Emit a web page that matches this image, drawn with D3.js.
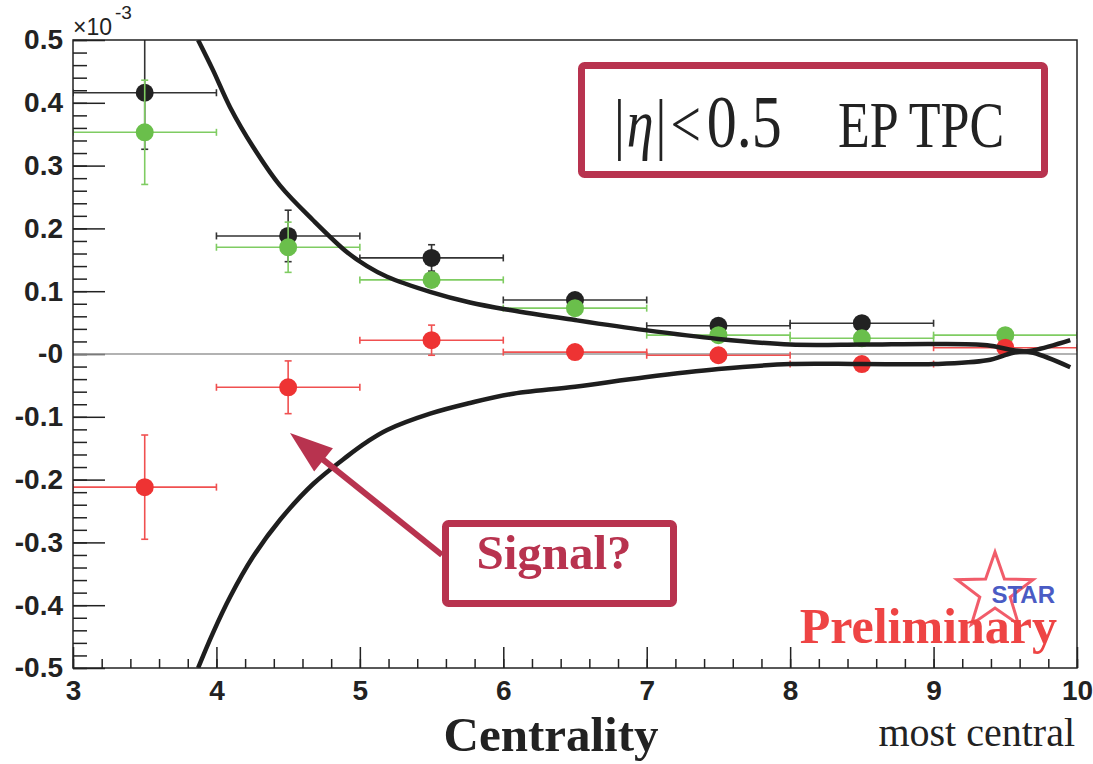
<!DOCTYPE html>
<html>
<head>
<meta charset="utf-8">
<script src="https://cdn.jsdelivr.net/npm/d3@7/dist/d3.min.js"></script>
<style>
  body { margin: 0; background: #fff; }
  svg { display: block; }
</style>
</head>
<body>
<div id="chart"></div>
<script>
// Bin centres (centrality classes), horizontal error is half a bin.
var centrality = [3.5, 4.5, 5.5, 6.5, 7.5, 8.5, 9.5];
var binHalfWidth = 0.5;

// Values in units of 1e-3.
var blackValues = [0.416, 0.188, 0.153, 0.086, 0.045, 0.049];
var blackErrors = [0.090, 0.041, 0.021, 0.008, 0.008, 0.008];
var greenValues = [0.353, 0.170, 0.118, 0.073, 0.030, 0.025, 0.030];
var greenErrors = [0.083, 0.040, 0.010, 0.008, 0.008, 0.008, 0.008];
var redValues = [-0.212, -0.053, 0.022, 0.003, -0.002, -0.016, 0.010];
var redErrors = [0.083, 0.042, 0.024, 0.008, 0.008, 0.008, 0.008];

// Background band curves [centrality, value].
var upperCurve = [
    [3.872, 0.500], [3.976, 0.452], [4.095, 0.393], [4.255, 0.330], [4.444, 0.268],
    [4.674, 0.213], [4.911, 0.162], [5.050, 0.140], [5.190, 0.123], [5.490, 0.099],
    [5.768, 0.082], [6.047, 0.070], [6.500, 0.054], [6.989, 0.038], [7.500, 0.024],
    [8.000, 0.015], [8.500, 0.015], [8.997, 0.016], [9.374, 0.014], [9.555, 0.006],
    [9.695, 0.002], [9.953, -0.021]
];
var lowerCurve = [
    [3.872, -0.500], [3.976, -0.444], [4.095, -0.387], [4.255, -0.323], [4.444, -0.264],
    [4.674, -0.207], [4.911, -0.163], [5.050, -0.140], [5.190, -0.121], [5.490, -0.095],
    [5.768, -0.078], [6.047, -0.064], [6.500, -0.052], [6.989, -0.037], [7.500, -0.024],
    [8.000, -0.016], [8.500, -0.016], [9.000, -0.016], [9.374, -0.010], [9.555, 0.002],
    [9.700, 0.006], [9.953, 0.022]
];

var xTicks = [3, 4, 5, 6, 7, 8, 9, 10];
var xTickLabels = ["3", "4", "5", "6", "7", "8", "9", "10"];
var yTicks = [-0.5, -0.4, -0.3, -0.2, -0.1, 0, 0.1, 0.2, 0.3, 0.4, 0.5];
var yTickLabels = ["-0.5", "-0.4", "-0.3", "-0.2", "-0.1", "-0", "0.1", "0.2", "0.3", "0.4", "0.5"];

var width = 1093, height = 764;
var margin = { left: 73, right: 16, top: 40, bottom: 96 };
var xMinpx = margin.left, xMaxpx = width - margin.right;
var yMaxpx = margin.top, yMinpx = height - margin.bottom;

var accent = "#b8334f";

var svg = d3.select("#chart").append("svg")
    .attr("width", width)
    .attr("height", height)
    .style("font-family", "'Liberation Sans', Arial, sans-serif");

var xScale = d3.scaleLinear().domain([3, 10]).range([xMinpx, xMaxpx]);
var yScale = d3.scaleLinear().domain([-0.5, 0.5]).range([yMinpx, yMaxpx]);

svg.append("defs").append("clipPath").attr("id", "plot-clip")
    .append("rect")
    .attr("x", xMinpx).attr("y", yMaxpx)
    .attr("width", xMaxpx - xMinpx).attr("height", yMinpx - yMaxpx);

// minor ticks first, then major ticks with labels (ticks point inwards)
var yMinor = d3.axisLeft(yScale).tickValues(d3.range(-50, 51, 2).map(function (d) { return d / 100; }))
    .tickSizeInner(-14).tickSizeOuter(0).tickFormat("");
var yMajor = d3.axisLeft(yScale).tickValues(yTicks)
    .tickSizeInner(-32).tickSizeOuter(0).tickPadding(10)
    .tickFormat(function (d, i) { return yTickLabels[i]; });
var xMinor = d3.axisBottom(xScale).tickValues(d3.range(30, 101, 2).map(function (d) { return d / 10; }))
    .tickSizeInner(-9).tickSizeOuter(0).tickFormat("");
var xMajor = d3.axisBottom(xScale).tickValues(xTicks)
    .tickSizeInner(-21).tickSizeOuter(0).tickPadding(12)
    .tickFormat(function (d, i) { return xTickLabels[i]; });

[yMinor, yMajor].forEach(function (axis) {
    svg.append("g").attr("class", "axis y-axis")
        .attr("transform", "translate(" + xMinpx + ",0)")
        .call(axis);
});
[xMinor, xMajor].forEach(function (axis) {
    svg.append("g").attr("class", "axis x-axis")
        .attr("transform", "translate(0," + yMinpx + ")")
        .call(axis);
});
svg.selectAll(".axis .domain").remove();
svg.selectAll(".axis line").attr("stroke", "#222").attr("stroke-width", 1.5);
svg.selectAll(".axis text")
    .attr("fill", "#222")
    .style("font-size", "28px")
    .style("font-weight", "bold")
    .style("font-family", "'Liberation Sans', Arial, sans-serif");

// exponent label
svg.append("text").attr("x", xMinpx).attr("y", 35)
    .attr("fill", "#222").style("font-size", "23px")
    .text("\u00d710");
svg.append("text").attr("x", xMinpx + 42).attr("y", 19)
    .attr("fill", "#222").style("font-size", "19px")
    .text("-3");

// zero line
svg.append("line")
    .attr("x1", xMinpx).attr("x2", xMaxpx)
    .attr("y1", yScale(0)).attr("y2", yScale(0))
    .attr("stroke", "#999").attr("stroke-width", 1.5);

var plot = svg.append("g").attr("clip-path", "url(#plot-clip)");

function drawSeries(values, errors, markerColor, errorColor) {
    var points = values.map(function (v, i) {
        return { x: centrality[i], y: v, e: errors[i] };
    });
    var g = plot.append("g");
    var cap = 3.5;
    points.forEach(function (p) {
        var cx = xScale(p.x), cy = yScale(p.y);
        var x0 = xScale(p.x - binHalfWidth), x1 = xScale(p.x + binHalfWidth);
        var y0 = yScale(p.y - p.e), y1 = yScale(p.y + p.e);
        var segs = [
            [x0, cy, x1, cy], [x0, cy - cap, x0, cy + cap], [x1, cy - cap, x1, cy + cap],
            [cx, y0, cx, y1], [cx - cap, y0, cx + cap, y0], [cx - cap, y1, cx + cap, y1]
        ];
        segs.forEach(function (s) {
            g.append("line")
                .attr("x1", s[0]).attr("y1", s[1]).attr("x2", s[2]).attr("y2", s[3])
                .attr("stroke", errorColor).attr("stroke-width", 1.6);
        });
    });
    g.selectAll("circle").data(points).enter().append("circle")
        .attr("cx", function (d) { return xScale(d.x); })
        .attr("cy", function (d) { return yScale(d.y); })
        .attr("r", 9)
        .attr("fill", markerColor);
}

drawSeries(blackValues, blackErrors, "#222", "#333");
drawSeries(greenValues, greenErrors, "#6abf4b", "#7fcc62");
drawSeries(redValues, redErrors, "#ee3333", "#f05050");

var line = d3.line()
    .x(function (d) { return xScale(d[0]); })
    .y(function (d) { return yScale(d[1]); })
    .curve(d3.curveCatmullRom.alpha(0.5));
[upperCurve, lowerCurve].forEach(function (c) {
    plot.append("path").datum(c)
        .attr("d", line)
        .attr("fill", "none")
        .attr("stroke", "#1e1e1e")
        .attr("stroke-width", 4.5);
});

// frame
svg.append("rect")
    .attr("x", xMinpx).attr("y", yMaxpx)
    .attr("width", xMaxpx - xMinpx).attr("height", yMinpx - yMaxpx)
    .attr("fill", "none").attr("stroke", "#222").attr("stroke-width", 1.5);

// axis titles
svg.append("text")
    .attr("x", 551).attr("y", 751)
    .attr("text-anchor", "middle")
    .attr("fill", "#222")
    .style("font-family", "'Liberation Serif', 'Times New Roman', serif")
    .style("font-weight", "bold").style("font-size", "49px")
    .text("Centrality");
svg.append("text")
    .attr("x", 1075).attr("y", 746)
    .attr("text-anchor", "end")
    .attr("fill", "#222")
    .style("font-family", "'Liberation Serif', 'Times New Roman', serif")
    .style("font-size", "40px")
    .text("most central");

// |eta| < 0.5 EP TPC box
svg.append("rect")
    .attr("x", 581.5).attr("y", 65.5).attr("width", 463).attr("height", 109)
    .attr("rx", 3)
    .attr("fill", "#fff").attr("stroke", accent).attr("stroke-width", 7);
var eta = svg.append("text")
    .attr("transform", "translate(614,147) scale(1,1.25)")
    .attr("fill", "#222")
    .style("font-family", "'Liberation Serif', 'Times New Roman', serif")
    .style("font-size", "54px");
eta.append("tspan").text("|");
eta.append("tspan").attr("dx", 2).style("font-style", "italic").text("\u03b7");
eta.append("tspan").attr("dx", 2).text("|");
eta.append("tspan").attr("dx", 4).text("<");
eta.append("tspan").attr("dx", 6).style("font-size", "60px").text("0.5");
svg.append("text")
    .attr("transform", "translate(838,147) scale(1,1.25)")
    .attr("fill", "#222")
    .style("font-family", "'Liberation Serif', 'Times New Roman', serif")
    .style("font-size", "52px")
    .text("EP TPC");

// Signal? box and arrow
var arrowTail = [442, 555], arrowTip = [290, 433];
var adx = arrowTip[0] - arrowTail[0], ady = arrowTip[1] - arrowTail[1];
var alen = Math.sqrt(adx * adx + ady * ady);
var ux = adx / alen, uy = ady / alen;
var headLen = 43, headHalf = 15;
var bx = arrowTip[0] - ux * headLen, by = arrowTip[1] - uy * headLen;
svg.append("line")
    .attr("x1", arrowTail[0]).attr("y1", arrowTail[1])
    .attr("x2", bx + ux * 5).attr("y2", by + uy * 5)
    .attr("stroke", accent).attr("stroke-width", 6);
svg.append("polygon")
    .attr("points", [
        arrowTip,
        [bx - uy * headHalf, by + ux * headHalf],
        [bx + uy * headHalf, by - ux * headHalf]
    ].map(function (p) { return p.join(","); }).join(" "))
    .attr("fill", accent);
svg.append("rect")
    .attr("x", 445.5).attr("y", 523.5).attr("width", 228).attr("height", 80)
    .attr("rx", 3)
    .attr("fill", "#fff").attr("stroke", accent).attr("stroke-width", 7);
svg.append("text")
    .attr("x", 554).attr("y", 569)
    .attr("text-anchor", "middle")
    .attr("fill", accent)
    .style("font-family", "'Liberation Serif', 'Times New Roman', serif")
    .style("font-weight", "bold").style("font-size", "49px")
    .text("Signal?");

// STAR Preliminary logo
var starCx = 995, starCy = 592, rOut = 40, rIn = 16;
var starPts = d3.range(10).map(function (i) {
    var r = (i % 2 === 0) ? rOut : rIn;
    var a = -Math.PI / 2 + i * Math.PI / 5;
    return [starCx + r * Math.cos(a), starCy + r * Math.sin(a)].join(",");
}).join(" ");
svg.append("polygon")
    .attr("points", starPts)
    .attr("fill", "none").attr("stroke", "#ee4050").attr("stroke-width", 3)
    .attr("opacity", 0.85);
svg.append("text")
    .attr("x", 1055).attr("y", 603)
    .attr("text-anchor", "end")
    .attr("fill", "#4a5bc4")
    .style("font-weight", "bold").style("font-size", "24px")
    .text("STAR");
svg.append("text")
    .attr("x", 1057).attr("y", 643)
    .attr("text-anchor", "end")
    .attr("fill", "#ee4444")
    .style("font-family", "'Liberation Serif', 'Times New Roman', serif")
    .style("font-weight", "bold").style("font-size", "50px")
    .text("Preliminary");
</script>
</body>
</html>
